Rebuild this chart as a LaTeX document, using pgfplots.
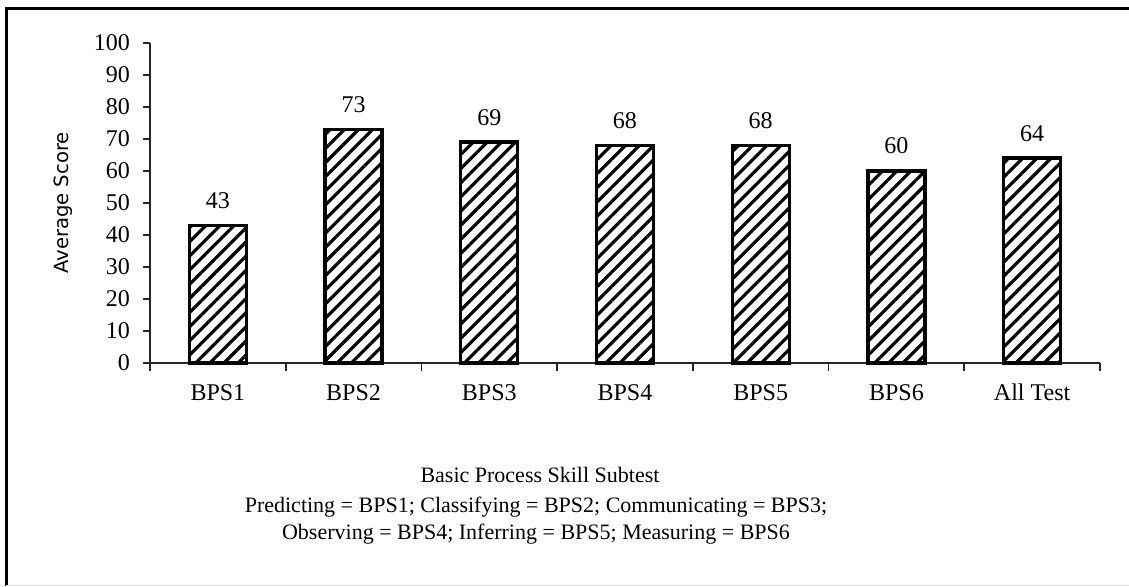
\documentclass[border=0pt]{standalone}
\usepackage{fontspec}
\setmainfont{Liberation Serif}
\newfontfamily\tahoma{DejaVu Sans}
\usepackage{pgfplots}
\pgfplotsset{compat=1.18}
\usetikzlibrary{patterns.meta}
\begin{document}
\begin{tikzpicture}
\path[use as bounding box] (0,0) rectangle (564.5pt,293.5pt);
% frame
\draw[line width=1.5pt] (3pt,0.5pt) -- (3pt,289pt) -- (564.5pt,289pt);
\draw[line width=0.8pt, black!12] (3pt,0.8pt) -- (564.5pt,0.8pt);
\begin{axis}[
  at={(75pt,112pt)}, anchor=south west,
  scale only axis, width=475pt, height=160pt,
  xmin=-0.5, xmax=6.5, ymin=0, ymax=100,
  axis x line=bottom, axis y line=left,
  axis line style={-, line width=0.9pt, black!85},
  tick align=outside,
  ytick={0,10,...,100},
  xtick={0,...,6},
  xticklabels={BPS1,BPS2,BPS3,BPS4,BPS5,BPS6,All Test},
  minor xtick={-0.5,0.5,...,6.5},
  major x tick style={draw=none},
  minor tick length=4pt, major tick length=3.5pt,
  tick style={line width=0.9pt, black!85},
  ticklabel style={font=\fontsize{12}{14}\selectfont},
  /pgf/number format/assume math mode=true,
  yticklabel style={xshift=-3pt},
  xticklabel style={yshift=-3.5pt, text height=8pt, text depth=2pt},
  ybar, bar width=28.5pt,
  nodes near coords,
  nodes near coords style={font=\fontsize{12}{14}\selectfont, anchor=base, yshift=8.5pt, inner sep=0pt},
  clip=false,
]
\addplot[draw=black, line width=1.7pt,
  postaction={pattern={Lines[angle=45,distance=5pt,line width=1.6pt]}, pattern color=black}]
  coordinates {(0,43) (1,73) (2,69) (3,68) (4,68) (5,60) (6,64)};
\end{axis}
\node[rotate=90, font=\tahoma\fontsize{9.8}{11}\selectfont] at (31.5pt,192pt) {Average Score};
\begin{scope}[every node/.style={anchor=base, inner sep=0pt, font=\fontsize{11}{13}\selectfont}]
\node at (270pt,52pt) {Basic Process Skill Subtest};
\node at (268pt,37pt) {Predicting = BPS1; Classifying = BPS2; Communicating = BPS3;};
\node at (268pt,23.5pt) {Observing = BPS4; Inferring = BPS5; Measuring = BPS6};
\end{scope}
\end{tikzpicture}
\end{document}
